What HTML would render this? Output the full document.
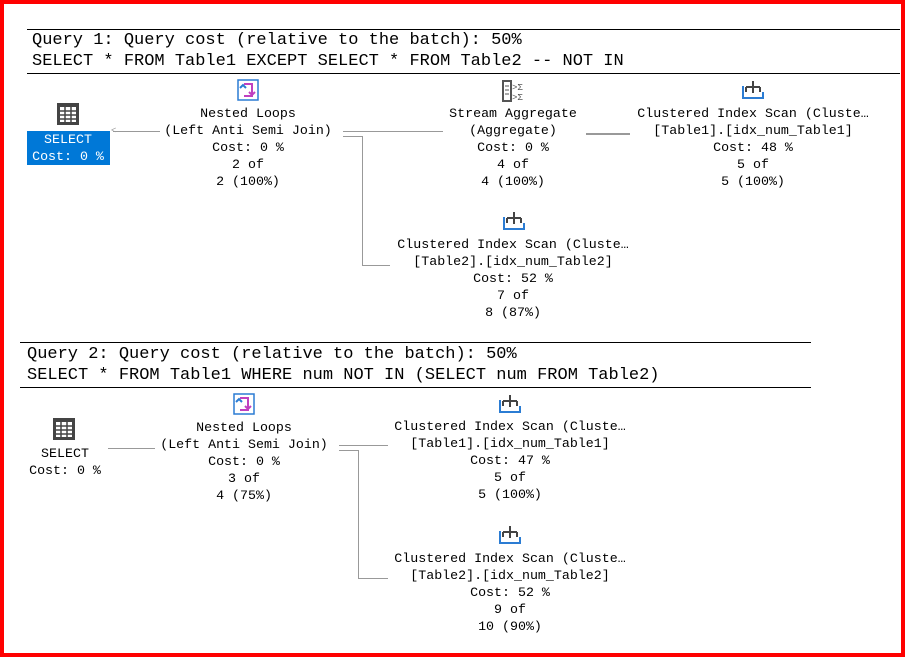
<!DOCTYPE html>
<html><head><meta charset="utf-8"><style>
body{margin:0;width:905px;height:657px;overflow:hidden;background:#fff;font-family:"Liberation Mono",monospace;}
.frame{position:absolute;left:0;top:0;width:897px;height:649px;border:4px solid #ff0000;}
.h{position:absolute;font-size:17px;color:#000;white-space:pre;line-height:21px;}
.hl{position:absolute;height:1px;background:#000;}
.n{position:absolute;font-size:13.3px;line-height:17px;text-align:center;white-space:pre;color:#000;transform:translateX(-50%);}
.l{position:absolute;background:#999;}
.ar{position:absolute;font-size:9px;color:#999;line-height:9px;}
svg{position:absolute;}
</style></head><body>
<div class="frame"></div>

<div class="hl" style="left:27px;top:29px;width:873px"></div>
<div class="h" style="left:32px;top:30px">Query 1: Query cost (relative to the batch): 50%</div>
<div class="h" style="left:32px;top:51px">SELECT * FROM Table1 EXCEPT SELECT * FROM Table2 -- NOT IN</div>
<div class="hl" style="left:27px;top:73px;width:873px"></div>

<!-- icons Q1 -->
<svg style="left:56px;top:102px" width="24" height="24"><rect x="1" y="1" width="22" height="22" fill="#444"/><g fill="#fff"><rect x="4" y="5" width="16" height="15"/></g><g stroke="#444" stroke-width="1.5"><line x1="4" y1="9" x2="20" y2="9"/><line x1="4" y1="13" x2="20" y2="13"/><line x1="4" y1="17" x2="20" y2="17"/><line x1="9" y1="5" x2="9" y2="20"/><line x1="15" y1="5" x2="15" y2="20"/></g></svg>
<div style="position:absolute;left:27px;top:131px;width:83px;height:34px;background:#0078d7"></div>
<div class="n" style="left:68px;top:131px;color:#fff">SELECT
Cost: 0 %</div>

<svg style="left:236px;top:78px" width="24" height="24"><rect x="2" y="2" width="20" height="20" fill="none" stroke="#2b7cd3" stroke-width="1.5"/><path d="M8 6h8v12h-8" fill="none" stroke="#c040c0" stroke-width="2"/><path d="M4 10l3-3 3 3" fill="none" stroke="#2b7cd3" stroke-width="2"/><path d="M13 14l3 3 3-3" fill="none" stroke="#c040c0" stroke-width="2"/></svg>
<div class="n" style="left:248px;top:105px">Nested Loops
(Left Anti Semi Join)
Cost: 0 %
2 of
2 (100%)</div>

<svg style="left:502px;top:79px" width="24" height="24"><rect x="1" y="2" width="8" height="20" fill="none" stroke="#555" stroke-width="2"/><g stroke="#555"><line x1="3" y1="7" x2="7" y2="7"/><line x1="3" y1="11" x2="7" y2="11"/><line x1="3" y1="15" x2="7" y2="15"/></g><text x="10" y="11" font-size="9" fill="#555">&gt;Σ</text><text x="10" y="21" font-size="9" fill="#555">&gt;Σ</text></svg>
<div class="n" style="left:513px;top:105px">Stream Aggregate
(Aggregate)
Cost: 0 %
4 of
4 (100%)</div>

<svg style="left:741px;top:78px" width="24" height="24"><path d="M12 3v12M5 9h14M5 9v5M19 9v5" stroke="#444" stroke-width="2" fill="none"/><path d="M2 8v12h20v-6" stroke="#2b7cd3" stroke-width="2" fill="none"/></svg>
<div class="n" style="left:753px;top:105px">Clustered Index Scan (Cluste…
[Table1].[idx_num_Table1]
Cost: 48 %
5 of
5 (100%)</div>

<svg style="left:502px;top:209px" width="24" height="24"><path d="M12 3v12M5 9h14M5 9v5M19 9v5" stroke="#444" stroke-width="2" fill="none"/><path d="M2 8v12h20v-6" stroke="#2b7cd3" stroke-width="2" fill="none"/></svg>
<div class="n" style="left:513px;top:236px">Clustered Index Scan (Cluste…
[Table2].[idx_num_Table2]
Cost: 52 %
7 of
8 (87%)</div>

<!-- connectors Q1 -->
<div class="l" style="left:113px;top:131px;width:47px;height:1px"></div>
<div class="ar" style="left:111px;top:127px">&lt;</div>
<div class="l" style="left:343px;top:131px;width:100px;height:1px"></div>
<div class="l" style="left:586px;top:133px;width:44px;height:2px"></div>
<div class="l" style="left:343px;top:136px;width:20px;height:1px"></div>
<div class="l" style="left:362px;top:136px;width:1px;height:130px"></div>
<div class="l" style="left:362px;top:265px;width:28px;height:1px"></div>

<!-- Q2 -->
<div class="hl" style="left:20px;top:342px;width:791px"></div>
<div class="h" style="left:27px;top:344px">Query 2: Query cost (relative to the batch): 50%</div>
<div class="h" style="left:27px;top:365px">SELECT * FROM Table1 WHERE num NOT IN (SELECT num FROM Table2)</div>
<div class="hl" style="left:20px;top:387px;width:791px"></div>

<svg style="left:52px;top:417px" width="24" height="24"><rect x="1" y="1" width="22" height="22" fill="#444"/><g fill="#fff"><rect x="4" y="5" width="16" height="15"/></g><g stroke="#444" stroke-width="1.5"><line x1="4" y1="9" x2="20" y2="9"/><line x1="4" y1="13" x2="20" y2="13"/><line x1="4" y1="17" x2="20" y2="17"/><line x1="9" y1="5" x2="9" y2="20"/><line x1="15" y1="5" x2="15" y2="20"/></g></svg>
<div class="n" style="left:65px;top:445px">SELECT
Cost: 0 %</div>

<svg style="left:232px;top:392px" width="24" height="24"><rect x="2" y="2" width="20" height="20" fill="none" stroke="#2b7cd3" stroke-width="1.5"/><path d="M8 6h8v12h-8" fill="none" stroke="#c040c0" stroke-width="2"/><path d="M4 10l3-3 3 3" fill="none" stroke="#2b7cd3" stroke-width="2"/><path d="M13 14l3 3 3-3" fill="none" stroke="#c040c0" stroke-width="2"/></svg>
<div class="n" style="left:244px;top:419px">Nested Loops
(Left Anti Semi Join)
Cost: 0 %
3 of
4 (75%)</div>

<svg style="left:498px;top:392px" width="24" height="24"><path d="M12 3v12M5 9h14M5 9v5M19 9v5" stroke="#444" stroke-width="2" fill="none"/><path d="M2 8v12h20v-6" stroke="#2b7cd3" stroke-width="2" fill="none"/></svg>
<div class="n" style="left:510px;top:418px">Clustered Index Scan (Cluste…
[Table1].[idx_num_Table1]
Cost: 47 %
5 of
5 (100%)</div>

<svg style="left:498px;top:523px" width="24" height="24"><path d="M12 3v12M5 9h14M5 9v5M19 9v5" stroke="#444" stroke-width="2" fill="none"/><path d="M2 8v12h20v-6" stroke="#2b7cd3" stroke-width="2" fill="none"/></svg>
<div class="n" style="left:510px;top:550px">Clustered Index Scan (Cluste…
[Table2].[idx_num_Table2]
Cost: 52 %
9 of
10 (90%)</div>

<div class="l" style="left:108px;top:448px;width:47px;height:1px"></div>
<div class="l" style="left:339px;top:445px;width:49px;height:1px"></div>
<div class="l" style="left:339px;top:450px;width:20px;height:1px"></div>
<div class="l" style="left:358px;top:450px;width:1px;height:129px"></div>
<div class="l" style="left:358px;top:578px;width:30px;height:1px"></div>
</body></html>
